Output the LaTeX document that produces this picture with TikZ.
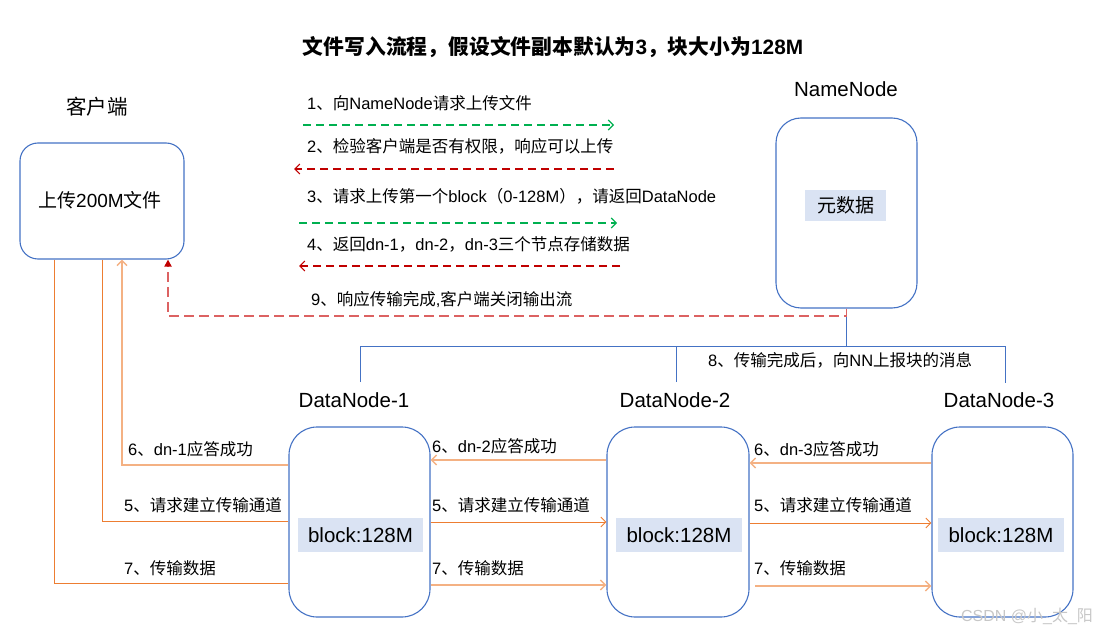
\documentclass[tikz,border=0pt]{standalone}
\usepackage{fontspec}
\setmainfont{Liberation Sans}
\newfontfamily\cjkfont{Noto Sans CJK SC}
\usetikzlibrary{arrows.meta}
\XeTeXinterchartokenstate=1
\newXeTeXintercharclass\cjkclass
\makeatletter
\count@="3000 \loop\ifnum\count@<"3040 \XeTeXcharclass\count@=\cjkclass \advance\count@ 1 \repeat
\count@="4E00 \loop\ifnum\count@<"A000 \XeTeXcharclass\count@=\cjkclass \advance\count@ 1 \repeat
\count@="FF00 \loop\ifnum\count@<"FFF0 \XeTeXcharclass\count@=\cjkclass \advance\count@ 1 \repeat
\makeatother
\XeTeXinterchartoks 0 \cjkclass={\cjkfont}
\XeTeXinterchartoks 4095 \cjkclass={\cjkfont}
\XeTeXinterchartoks \cjkclass 0={\rmfamily}
\XeTeXinterchartoks \cjkclass 4095={\rmfamily}
\definecolor{boxblue}{HTML}{4472C4}
\definecolor{fillblue}{HTML}{DAE3F3}
\definecolor{orgdark}{HTML}{ED7D31}
\definecolor{orglight}{HTML}{F4B183}
\definecolor{grn}{HTML}{00B050}
\definecolor{reddark}{HTML}{C00000}
\definecolor{redlight}{HTML}{DC6262}
\tikzset{
  box/.style={draw=boxblue, line width=1.1pt, rounded corners=#1, inner sep=0pt},
  inner/.style={fill=fillblue, inner sep=0pt, font=\fontsize{20.5}{24}\selectfont},
  big/.style={inner sep=0pt, font=\fontsize{20.5}{24}\selectfont},
  small/.style={inner sep=0pt, anchor=west, font=\fontsize{16.5}{19}\selectfont},
  barb/.style={-{Straight Barb[length=5pt,width=10pt]}},
  gdash/.style={draw=grn, line width=1.1pt, dash pattern=on 8pt off 5pt, barb},
  rdash/.style={draw=reddark, line width=1.1pt, dash pattern=on 8pt off 5pt, barb},
  rdash9/.style={draw=redlight, line width=1.8pt, dash pattern=on 10pt off 5pt,
    -{Triangle[length=7pt,width=7pt,color=reddark]}},
  odark/.style={draw=orgdark, line width=0.9pt},
  olight/.style={draw=orglight, line width=1.4pt},
  bus/.style={draw=boxblue, line width=1pt},
}
\begin{document}
\begin{tikzpicture}[x=1pt,y=-1pt]
\useasboundingbox (0,0) rectangle (1119,636);
% title
\node[inner sep=0pt, font=\bfseries\fontsize{20.8}{24}\selectfont] (title) at (553,47) {文件写入流程，假设文件副本默认为3，块大小为128M};
% client
\node[big] (clientlab) at (97,107) {客户端};
\node[box=18pt, minimum width=164pt, minimum height=116pt] (client) at (102,201) {};
\node[inner sep=0pt, font=\fontsize{19}{23}\selectfont] (clienttxt) at (100,200) {上传200M文件};
% namenode
\node[big] (nnlab) at (846,89) {NameNode};
\node[box=25pt, minimum width=141pt, minimum height=190pt] (nn) at (846.5,213) {};
\node[fill=fillblue, inner sep=0pt, minimum width=81pt, minimum height=31pt, font=\fontsize{19}{23}\selectfont] (meta) at (845.5,205.5) {元数据};
% datanodes
\node[big] (dn1lab) at (354,400) {DataNode-1};
\node[big] (dn2lab) at (675,400) {DataNode-2};
\node[big] (dn3lab) at (999,400) {DataNode-3};
\node[box=28pt, minimum width=141pt, minimum height=190pt] (dn1) at (359.5,522) {};
\node[box=28pt, minimum width=142pt, minimum height=190pt] (dn2) at (678,522) {};
\node[box=28pt, minimum width=141pt, minimum height=190pt] (dn3) at (1002.5,522) {};
\node[inner, minimum width=125pt, minimum height=34pt] (blk1) at (360.5,535) {block:128M};
\node[inner, minimum width=126pt, minimum height=34pt] (blk2) at (679,535) {block:128M};
\node[inner, minimum width=126pt, minimum height=34pt] (blk3) at (1001,535) {block:128M};
% top messages
\node[small] (t1) at (307,103) {1、向NameNode请求上传文件};
\node[small] (t2) at (307,146) {2、检验客户端是否有权限，响应可以上传};
\node[small] (t3) at (307,196) {3、请求上传第一个block（0-128M），请返回DataNode};
\node[small] (t4) at (307,244) {4、返回dn-1，dn-2，dn-3三个节点存储数据};
\node[small] (t9) at (311,300) {9、响应传输完成,客户端关闭输出流};
\coordinate (a1s) at (303,125); \coordinate (a1e) at (614,125);
\coordinate (a2s) at (614,169); \coordinate (a2e) at (294,169);
\coordinate (a3s) at (299,223); \coordinate (a3e) at (617,223);
\coordinate (a4s) at (620,266); \coordinate (a4e) at (299,266);
\draw[gdash] (a1s) -- (a1e);
\draw[rdash] (a2s) -- (a2e);
\draw[gdash] (a3s) -- (a3e);
\draw[rdash] (a4s) -- (a4e);
% bus (8)
\coordinate (b1) at (360,382);
\coordinate (b2) at (676,382);
\coordinate (b3) at (1005,383);
\draw[bus] (nn.south) -- (nn.south |- 0,346);
\draw[bus] (b1) -- (b1 |- 0,346) -- (b3 |- 0,346) -- (b3);
\draw[bus] (b2) -- (b2 |- 0,346);
\node[small] (t8) at (708,360) {8、传输完成后，向NN上报块的消息};
% 9 response
\draw[rdash9] (nn.south) -- (nn.south |- 0,316) -| (client.south -| 168,0);
% left orange
\draw[odark] (client.south -| 54,0) |- (dn1.west |- 0,583);
\draw[odark] (client.south -| 102,0) |- (dn1.west |- 0,521);
\draw[olight, barb] (dn1.west |- 0,465) -| (client.south -| 122,0);
\node[small] (l6) at (128,449) {6、dn-1应答成功};
\node[small] (l5) at (124,505) {5、请求建立传输通道};
\node[small] (l7) at (124,568) {7、传输数据};
% dn1 <-> dn2
\draw[olight, barb] (dn2.west |- 0,460) -- (dn1.east |- 0,460);
\draw[odark, barb] (dn1.east |- 0,522) -- (dn2.west |- 0,522);
\draw[olight, barb] (dn1.east |- 0,585) -- (dn2.west |- 0,585);
\node[small] (m6) at (432,446) {6、dn-2应答成功};
\node[small] (m5) at (432,505) {5、请求建立传输通道};
\node[small] (m7) at (432,568) {7、传输数据};
% dn2 <-> dn3
\draw[olight, barb] (dn3.west |- 0,463) -- (dn2.east |- 0,463);
\draw[odark, barb] (dn2.east |- 0,523) -- (dn3.west |- 0,523);
\coordinate (r7s) at (755,586);
\draw[olight, barb] (r7s) -- (dn3.west |- 0,586);
\node[small] (r6) at (754,449) {6、dn-3应答成功};
\node[small] (r5) at (754,505) {5、请求建立传输通道};
\node[small] (r7) at (754,568) {7、传输数据};
% watermark
\node[inner sep=0pt, text=black!22, font=\fontsize{16}{19}\selectfont] (wm) at (1027,616) {CSDN @小\_太\_阳};
\end{tikzpicture}
\end{document}
